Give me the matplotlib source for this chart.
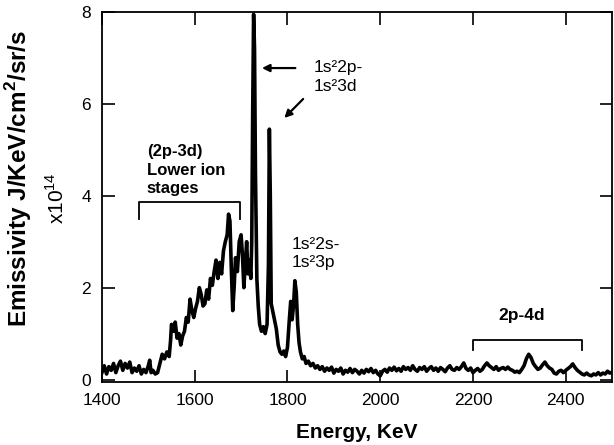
import matplotlib
matplotlib.use("Agg")
import matplotlib.pyplot as plt

plt.rcParams["font.family"] = ["Liberation Sans", "DejaVu Sans"]
plt.rcParams["mathtext.fontset"] = "custom"
plt.rcParams["mathtext.rm"] = "Liberation Sans"
plt.rcParams["mathtext.bf"] = "Liberation Sans:bold"

# Spectrum: energy (KeV) and emissivity (x1e14)
energy_low = [1400, 1405, 1410, 1415, 1420, 1425, 1430, 1435, 1440, 1445,
              1450, 1455, 1460, 1465, 1470, 1475, 1480, 1485, 1490, 1495,
              1500, 1503, 1506, 1510, 1515, 1520]
emis_low = [0.15, 0.30, 0.12, 0.28, 0.20, 0.35, 0.15, 0.30, 0.40, 0.20,
            0.35, 0.25, 0.38, 0.15, 0.25, 0.18, 0.30, 0.12, 0.22, 0.15,
            0.30, 0.42, 0.15, 0.20, 0.12, 0.15]

energy_mid = [1525, 1530, 1535, 1540, 1545, 1548, 1550, 1555, 1558, 1562,
              1566, 1570, 1574, 1578, 1582, 1586, 1590, 1594, 1598, 1602,
              1606, 1610, 1614, 1618, 1622, 1626, 1630, 1634, 1638, 1642,
              1646, 1650, 1654, 1658, 1662, 1666, 1670, 1673, 1676, 1679,
              1682, 1685, 1688, 1692, 1696, 1700, 1703, 1706, 1709, 1712,
              1715, 1718, 1721, 1723, 1725, 1727, 1729, 1731, 1734, 1737,
              1740, 1744, 1748, 1752, 1756, 1759, 1761, 1763, 1765, 1768,
              1772, 1776, 1780, 1784, 1788, 1792, 1796, 1800, 1804, 1807,
              1810, 1813, 1816, 1819, 1822, 1825, 1828, 1832, 1836, 1840,
              1845, 1850, 1855, 1860, 1865]
emis_mid = [0.35, 0.55, 0.45, 0.60, 0.50, 0.85, 1.20, 1.05, 1.25, 0.90,
            1.00, 0.75, 0.95, 1.05, 1.35, 1.25, 1.75, 1.50, 1.35, 1.55,
            1.70, 2.00, 1.85, 1.60, 1.65, 1.95, 1.75, 2.20, 2.05, 2.35,
            2.60, 2.20, 2.55, 2.30, 2.80, 3.00, 3.15, 3.60, 3.45, 2.40,
            1.50, 2.00, 2.65, 2.35, 3.00, 3.15, 2.70, 2.00, 2.50, 3.00,
            2.30, 2.60, 2.20, 3.00, 5.80, 7.95, 7.20, 4.50, 2.20, 1.60,
            1.20, 1.05, 1.15, 1.00, 1.20, 2.50, 5.45, 4.00, 1.65, 1.50,
            1.30, 1.10, 0.75, 0.60, 0.55, 0.62, 0.50, 0.70, 1.30, 1.70,
            1.30, 1.60, 2.15, 1.90, 1.20, 0.80, 0.60, 0.45, 0.50, 0.35,
            0.40, 0.30, 0.35, 0.25, 0.30]

energy_high = [1870, 1875, 1880, 1885, 1890, 1895, 1900, 1905, 1910, 1915,
               1920, 1925, 1930, 1935, 1940, 1945, 1950, 1955, 1960, 1965,
               1970, 1975, 1980, 1985, 1990, 1995, 2000, 2005, 2010, 2015,
               2020, 2025, 2030, 2035, 2040, 2045, 2050, 2055, 2060, 2065,
               2070, 2075, 2080, 2085, 2090, 2095, 2100, 2105, 2110, 2115,
               2120, 2125, 2130, 2135, 2140, 2145, 2150, 2155, 2160, 2165,
               2170, 2175, 2180, 2185, 2190, 2195, 2200, 2205, 2210, 2215,
               2220, 2225, 2230, 2235, 2240, 2245, 2250, 2255, 2260, 2265,
               2270, 2275, 2280, 2285, 2290, 2295, 2300, 2305, 2310, 2315,
               2320, 2325, 2330, 2335, 2340, 2345, 2350, 2355, 2360, 2365,
               2370, 2375, 2380, 2385, 2390, 2395, 2400, 2405, 2410, 2415,
               2420, 2425, 2430, 2435, 2440, 2445, 2450, 2455, 2460, 2465,
               2470, 2475, 2480, 2485, 2490, 2495, 2500]
emis_high = [0.22, 0.28, 0.18, 0.25, 0.20, 0.27, 0.14, 0.22, 0.18, 0.25,
             0.12, 0.20, 0.16, 0.24, 0.15, 0.22, 0.18, 0.12, 0.20, 0.14,
             0.22, 0.17, 0.24, 0.15, 0.20, 0.12, 0.08, 0.18, 0.22, 0.16,
             0.25, 0.20, 0.27, 0.19, 0.24, 0.18, 0.28, 0.22, 0.26, 0.20,
             0.30, 0.22, 0.18, 0.26, 0.22, 0.28, 0.18, 0.24, 0.28, 0.20,
             0.25, 0.18, 0.26, 0.22, 0.17, 0.25, 0.30, 0.22, 0.20, 0.26,
             0.22, 0.28, 0.36, 0.24, 0.20, 0.25, 0.15, 0.20, 0.24, 0.18,
             0.22, 0.30, 0.36, 0.30, 0.26, 0.22, 0.28, 0.20, 0.24, 0.26,
             0.22, 0.27, 0.22, 0.20, 0.16, 0.18, 0.15, 0.22, 0.30, 0.45,
             0.55, 0.48, 0.35, 0.28, 0.22, 0.25, 0.32, 0.38, 0.30, 0.25,
             0.22, 0.14, 0.12, 0.18, 0.20, 0.15, 0.20, 0.24, 0.28, 0.34,
             0.26, 0.20, 0.16, 0.12, 0.10, 0.14, 0.10, 0.08, 0.12, 0.10,
             0.15, 0.10, 0.14, 0.12, 0.18, 0.14, 0.16]

energy = energy_low + energy_mid + energy_high
emissivity = emis_low + emis_mid + emis_high

x_ticks = [1400, 1600, 1800, 2000, 2200, 2400]
y_ticks = [0, 2, 4, 6, 8]

fig = plt.figure(figsize=(6.14, 4.45), dpi=100)
ax = fig.add_axes([0.166, 0.142, 0.831, 0.831])

ax.plot(energy, emissivity, color="black", lw=2.6, solid_joinstyle="round")

ax.set_xlim(1400, 2500)
ax.set_ylim(-0.05, 8)
ax.set_xticks(x_ticks)
ax.set_yticks(y_ticks)
ax.tick_params(direction="in", length=9, width=1.2, top=True, right=True,
               labelsize=12.5)
ax.tick_params(axis="x", pad=8)
ax.tick_params(axis="y", pad=8)
for s in ax.spines.values():
    s.set_linewidth(1.3)

ax.set_xlabel("Energy, KeV", fontsize=15, fontweight="bold", labelpad=11)
fig.text(0.031, 0.599, "Emissivity J/KeV/cm$^\\mathbf{2}$/sr/s", rotation=90,
         fontsize=17.5, fontweight="bold", ha="center", va="center")
fig.text(0.092, 0.554, "x10$^{14}$", rotation=90, fontsize=15,
         ha="center", va="center")

# lower ion stage bracket and label
ax.plot([1480, 1480, 1698, 1698], [3.5, 3.87, 3.87, 3.5], color="black", lw=1.3)
ax.text(1497, 4.56, "(2p-3d)\nLower ion\nstages", fontsize=12, fontweight="bold",
        ha="left", va="center", linespacing=1.3)

# 2p-4d bracket and label
ax.plot([2199, 2199, 2435, 2435], [0.65, 0.85, 0.85, 0.65], color="black", lw=1.3)
ax.text(2305, 1.40, "2p-4d", fontsize=12.5, fontweight="bold", ha="center", va="center")

# line labels and arrows
ax.text(1856, 6.58, "1s\u00b22p-\n1s\u00b23d", fontsize=12.5, ha="left", va="center",
        linespacing=1.3)
ax.text(1810, 2.74, "1s\u00b22s-\n1s\u00b23p", fontsize=12.5, ha="left", va="center",
        linespacing=1.3)
ax.annotate("", xy=(1739, 6.78), xytext=(1823, 6.78),
            arrowprops=dict(arrowstyle="-|>", color="black", lw=1.6, mutation_scale=11))
ax.annotate("", xy=(1789, 5.65), xytext=(1838, 6.15),
            arrowprops=dict(arrowstyle="-|>", color="black", lw=1.6, mutation_scale=11))

fig.savefig("out.png", dpi=100)
